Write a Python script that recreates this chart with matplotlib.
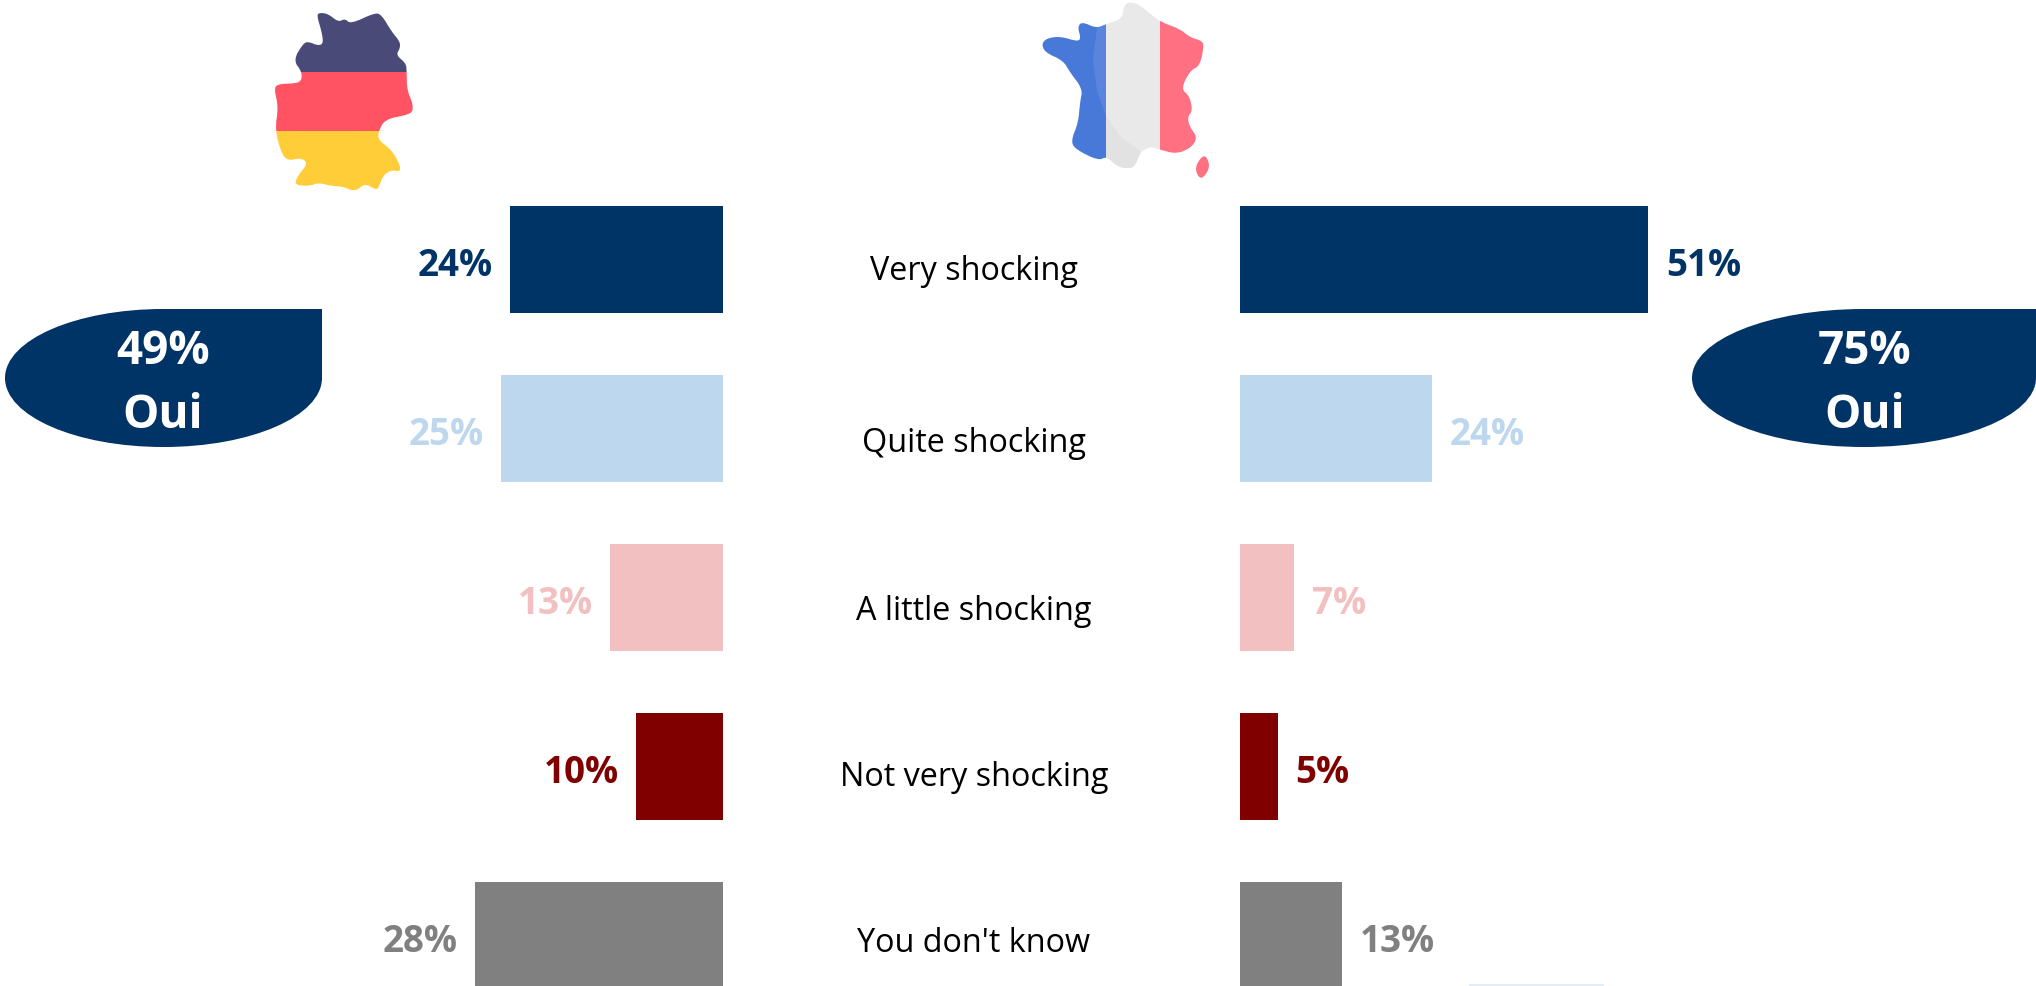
import matplotlib
matplotlib.use('Agg')
import matplotlib.pyplot as plt
from matplotlib.patches import Polygon, Rectangle, PathPatch
from matplotlib.path import Path
import numpy as np

plt.rcParams['font.family'] = ['Open Sans', 'DejaVu Sans']

categories = ['Very shocking', 'Quite shocking', 'A little shocking', 'Not very shocking', "You don't know"]
germany_labels = ['24%', '25%', '13%', '10%', '28%']
france_labels = ['51%', '24%', '7%', '5%', '13%']
# bar lengths, the small ones fall a bit short of their rounded label
germany = [24, 25, 12.7, 9.8, 28]
france = [51, 24, 6.8, 4.7, 12.7]
colors = ['#003366', '#BDD7EE', '#F2C0C0', '#800000', '#808080']
yes_labels = ['49%\nOui', '75%\nOui']

W, H = 2036, 987
fig = plt.figure(figsize=(W / 100, H / 100), dpi=100)

# y positions in data units, row spacing is 169 px
ylim = ((H - 260.7) / 169, -260.7 / 169)
ys = np.arange(len(categories))


def make_axes(x0, x1):
    ax = fig.add_axes([x0 / W, 0, (x1 - x0) / W, 1])
    ax.set_ylim(*ylim)
    ax.axis('off')
    return ax


# left side grows to the left from x=723
ax_l = make_axes(0, 723)
ax_l.set_xlim(723 / 8.87, 0)
ax_l.barh(ys, germany, height=0.633, color=colors)
for y, v, lab, c in zip(ys, germany, germany_labels, colors):
    ax_l.annotate(lab, (v, y), xytext=(-12.5, -3.8), textcoords='offset points',
                  ha='right', va='center', color=c, fontsize=26.5, fontweight='bold')

# right side
ax_r = make_axes(1240, W)
ax_r.set_xlim(0, (W - 1240) / 8.0)
ax_r.barh(ys, france, height=0.633, color=colors)
for y, v, lab, c in zip(ys, france, france_labels, colors):
    ax_r.annotate(lab, (v, y), xytext=(13, -3.8), textcoords='offset points',
                  ha='left', va='center', color=c, fontsize=26.5, fontweight='bold')

# overlay in pixel coordinates for the callouts, maps and centre text
ov = fig.add_axes([0, 0, 1, 1])
ov.set_xlim(0, W)
ov.set_ylim(H, 0)
ov.axis('off')
ov.patch.set_alpha(0)

cat_y = [272, 444, 611, 777, 943]
for name, y in zip(categories, cat_y):
    ov.text(974, y, name, ha='center', va='center', fontsize=23.3, color='black')


def teardrop(left, right, top, bottom):
    # ellipse with the top right quadrant squared off
    cx, cy = (left + right) / 2, (top + bottom) / 2
    kx, ky = 0.5523 * (right - left) / 2, 0.5523 * (bottom - top) / 2
    verts = [(cx, top), (right, top), (right, cy),
             (right, cy + ky), (cx + kx, bottom), (cx, bottom),
             (cx - kx, bottom), (left, cy + ky), (left, cy),
             (left, cy - ky), (cx - kx, top), (cx, top)]
    codes = [Path.MOVETO, Path.LINETO, Path.LINETO] + [Path.CURVE4] * 9
    return PathPatch(Path(verts, codes), fc='#003366', ec='none')


ov.add_patch(teardrop(5, 322, 310, 448))
ov.add_patch(teardrop(1692, 2036, 310, 448))
for x, lab in zip([163, 1865], yes_labels):
    top, bot = lab.split('\n')
    ov.text(x, 352, top, ha='center', va='center', color='white', fontsize=33, fontweight='bold')
    ov.text(x, 415, bot, ha='center', va='center', color='white', fontsize=33, fontweight='bold')


def chaikin(pts, n=3):
    pts = np.array(pts, dtype=float)
    for _ in range(n):
        nxt = np.roll(pts, -1, axis=0)
        q = 0.75 * pts + 0.25 * nxt
        r = 0.25 * pts + 0.75 * nxt
        pts = np.empty((len(q) * 2, 2))
        pts[0::2] = q
        pts[1::2] = r
    return pts


def outline(zoom_pts, ox, oy=0):
    # traced at 3x zoom
    return chaikin(np.array(zoom_pts) / 3 + [ox, oy], 2)


de_pts = [(170, 45), (180, 38), (205, 42), (235, 66), (255, 56), (272, 72), (345, 38), (365, 45),
          (395, 95), (420, 125), (420, 145), (408, 165), (438, 190), (440, 215), (441, 270),
          (458, 310), (458, 335), (440, 345), (375, 358), (355, 395), (355, 420), (395, 450),
          (420, 495), (420, 515), (395, 510), (370, 525), (355, 565), (345, 568), (315, 550),
          (285, 575), (250, 560), (215, 558), (175, 548), (150, 558), (102, 555), (115, 525),
          (140, 495), (135, 480), (115, 475), (85, 482), (65, 462), (45, 390), (55, 320),
          (42, 265), (55, 252), (110, 250), (125, 240), (125, 215), (100, 180), (130, 130),
          (145, 125), (175, 137), (190, 130), (185, 95)]
fr_pts = [(370, 30), (380, 10), (410, 12), (440, 35), (480, 68), (540, 90), (570, 115), (605, 125),
          (612, 140), (600, 200), (570, 215), (543, 270), (568, 290), (578, 335), (562, 355),
          (570, 385), (592, 415), (575, 445), (530, 465), (480, 452), (450, 443), (420, 460),
          (408, 495), (395, 508), (355, 505), (320, 472), (295, 485), (225, 450), (213, 425),
          (235, 370), (240, 310), (248, 270), (210, 220), (190, 185), (135, 160), (125, 135),
          (140, 118), (180, 112), (235, 128), (242, 115), (233, 85), (245, 68), (290, 88),
          (320, 75), (365, 60)]
corsica_pts = [(585, 505), (605, 472), (620, 472), (630, 505), (610, 537), (595, 535)]


def clipped(patch, clip):
    ov.add_patch(patch)
    patch.set_clip_path(clip)


# germany
de = Polygon(outline(de_pts, 260, 1), closed=True, fc='none', ec='none')
ov.add_patch(de)
for y0, y1, c in [(0, 72.5, '#4A4A78'), (72.5, 131.5, '#FF5364'), (131.5, 200, '#FFCD38')]:
    clipped(Rectangle((260, y0), 170, y1 - y0, fc=c, ec='none'), de)

# france
fr = Polygon(outline(fr_pts, 1000), closed=True, fc='none', ec='none')
ov.add_patch(fr)
for x0, x1, c in [(1000, 1106, '#4878D8'), (1106, 1160, '#E9E9E9'), (1160, 1230, '#FF7083')]:
    clipped(Rectangle((x0, 0), x1 - x0, 200, fc=c, ec='none'), fr)
clipped(Polygon([(1097, 29), (1093, 60), (1097, 92), (1106, 117), (1106, 20)], fc='#5B85DC', ec='none'), fr)
clipped(Polygon([(1106, 117), (1120, 137), (1140, 152), (1140, 180), (1106, 180)], fc='#E2E2E2', ec='none'), fr)
ov.add_patch(Polygon(outline(corsica_pts, 1000), closed=True, fc='#FF7083', ec='none'))

# faint leftover line at the bottom
ov.plot([1470, 1603], [985.5, 985.5], color='#E4ECF4', lw=1.5)

fig.savefig('out.png', dpi=100)
